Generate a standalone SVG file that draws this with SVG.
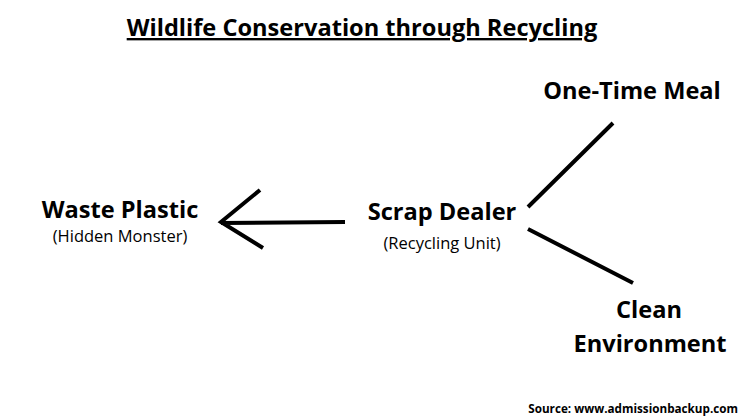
<svg xmlns="http://www.w3.org/2000/svg" width="750" height="420" viewBox="0 0 750 420">
<style>
text{font-family:"Open Sans","Liberation Sans",sans-serif;fill:#000;text-anchor:middle}
.b{font-weight:bold;font-size:23.6px}
.s{font-size:16.5px}
.ln{stroke:#000;stroke-width:4;stroke-linecap:butt;fill:none}
</style>
<rect width="750" height="420" fill="#fff"/>
<text x="362" y="36" class="b" style="text-decoration:underline">Wildlife Conservation through Recycling</text>
<g id="waste"><text x="120" y="218" class="b">Waste Plastic</text><text x="120" y="242" class="s">(Hidden Monster)</text></g>
<g id="scrap"><text x="442" y="220" class="b">Scrap Dealer</text><text x="442" y="249" class="s">(Recycling Unit)</text></g>
<g id="meal"><text x="632" y="99" class="b">One-Time Meal</text></g>
<g id="clean"><text x="649" y="318" class="b">Clean</text><text x="650" y="352" class="b">Environment</text></g>
<g id="connectors">
<path class="ln" d="M345 222 L221 223 M260 190 L221 222 L263 248"/>
<path class="ln" d="M528 207 L613 123 M528 229 L633 283"/>
</g>
<text x="738" y="413" style="font-size:11.7px;font-weight:bold;text-anchor:end">Source: www.admissionbackup.com</text>
</svg>
